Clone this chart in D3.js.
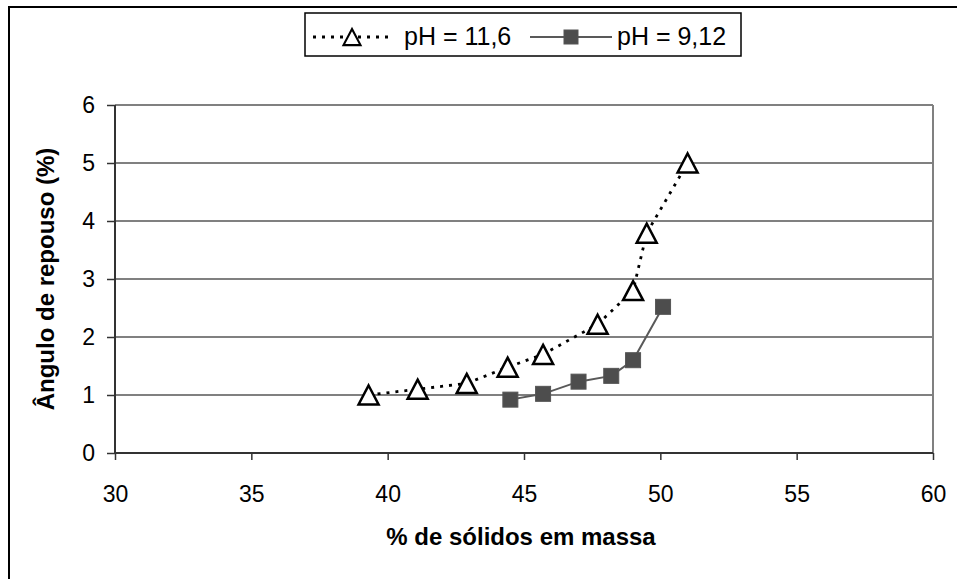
<!DOCTYPE html>
<html><head><meta charset="utf-8">
<script src="https://cdn.jsdelivr.net/npm/d3@7"></script>
<style>body{margin:0;background:#fff}svg{display:block}text{font-family:"Liberation Sans",Arial,sans-serif}</style>
</head><body>
<svg id="c" width="957" height="579"></svg>
<script>
const seriesA_name = "pH = 11,6";
const seriesA_x = [39.3, 41.1, 42.9, 44.4, 45.7, 47.7, 49.0, 49.5, 51.0];
const seriesA_y = [1.0, 1.1, 1.2, 1.48, 1.7, 2.22, 2.8, 3.79, 5.0];
const seriesB_name = "pH = 9,12";
const seriesB_x = [44.5, 45.7, 47.0, 48.2, 49.0, 50.1];
const seriesB_y = [0.92, 1.02, 1.23, 1.33, 1.6, 2.52];
const xTicks = [30, 35, 40, 45, 50, 55, 60];
const yTicks = [0, 1, 2, 3, 4, 5, 6];
const xTitle = "% de sólidos em massa";
const yTitle = "Ângulo de repouso (%)";

const svg = d3.select("#c");
const L = 115, R = 933, T = 105, B = 453;
const x = d3.scaleLinear().domain([30, 60]).range([L, R]);
const y = d3.scaleLinear().domain([0, 6]).range([B, T]);

// outer frame (only left/top visible)
svg.append("rect").attr("x", 9).attr("y", 7).attr("width", 1200).attr("height", 1200)
  .attr("fill", "none").attr("stroke", "#000").attr("stroke-width", 2);

// gridlines
svg.append("g").selectAll("line").data(yTicks.filter(d => d > 0)).join("line")
  .attr("x1", L).attr("x2", R).attr("y1", d => y(d)).attr("y2", d => y(d))
  .attr("stroke", "#808080").attr("stroke-width", 2);
svg.append("line").attr("x1", R).attr("x2", R).attr("y1", T).attr("y2", B)
  .attr("stroke", "#808080").attr("stroke-width", 2);

// axes
const FONT = '"Liberation Sans",Arial,sans-serif';
const xAxis = svg.append("g").attr("transform", `translate(0,${B})`)
  .call(d3.axisBottom(x).tickValues(xTicks).tickSize(7).tickPadding(26).tickFormat(d3.format("d")));
const yAxis = svg.append("g").attr("transform", `translate(${L},0)`)
  .call(d3.axisLeft(y).tickValues(yTicks).tickSize(8).tickPadding(12).tickFormat(d3.format("d")));
[xAxis, yAxis].forEach(g => {
  g.select(".domain").attr("stroke", "#333").attr("stroke-width", 2);
  g.selectAll(".tick line").attr("stroke", "#333").attr("stroke-width", 1.5);
  g.selectAll(".tick text").attr("font-size", 23).attr("fill", "#000").attr("font-family", FONT);
});
xAxis.select(".domain").attr("d", `M${L},0H${R}`);
yAxis.select(".domain").attr("d", `M0,${B}V${T}`);

// titles
svg.append("text").attr("x", 521).attr("y", 545).attr("text-anchor", "middle")
  .attr("font-size", 24).attr("font-weight", "bold").text(xTitle);
svg.append("text").attr("transform", `translate(54,${(T + B) / 2}) rotate(-90)`)
  .attr("text-anchor", "middle").attr("font-size", 24).attr("font-weight", "bold").text(yTitle);

const line = d3.line().x(d => x(d[0])).y(d => y(d[1]));
const A = seriesA_x.map((v, i) => [v, seriesA_y[i]]);
const Bd = seriesB_x.map((v, i) => [v, seriesB_y[i]]);

svg.append("path").attr("d", line(Bd)).attr("fill", "none").attr("stroke", "#595959").attr("stroke-width", 2);
svg.append("path").attr("d", line(A)).attr("fill", "none").attr("stroke", "#000")
  .attr("stroke-width", 2.8).attr("stroke-dasharray", "3,6");

const triPath = "M0,-9.5L10,9.5L-10,9.5Z";
svg.append("g").selectAll("path").data(A).join("path")
  .attr("d", triPath).attr("transform", d => `translate(${x(d[0])},${y(d[1])})`)
  .attr("fill", "#fff").attr("stroke", "#000").attr("stroke-width", 2.5).attr("stroke-linejoin", "miter");
svg.append("g").selectAll("rect").data(Bd).join("rect")
  .attr("x", d => x(d[0]) - 7.5).attr("y", d => y(d[1]) - 7.5).attr("width", 15).attr("height", 15)
  .attr("fill", "#4d4d4d").attr("stroke", "#555").attr("stroke-width", 1);

// legend
const lg = svg.append("g");
lg.append("rect").attr("x", 305).attr("y", 13).attr("width", 436).attr("height", 43)
  .attr("fill", "#fff").attr("stroke", "#000").attr("stroke-width", 1.5);
const ly = 37;
lg.append("line").attr("x1", 313).attr("x2", 393).attr("y1", ly).attr("y2", ly)
  .attr("stroke", "#000").attr("stroke-width", 2.8).attr("stroke-dasharray", "3,6");
lg.append("path").attr("d", triPath).attr("transform", `translate(352,${ly})scale(0.85)`)
  .attr("fill", "#fff").attr("stroke", "#000").attr("stroke-width", 2.5);
lg.append("text").attr("x", 404).attr("y", ly + 8).attr("font-size", 25).text(seriesA_name);
lg.append("line").attr("x1", 530).attr("x2", 612).attr("y1", ly).attr("y2", ly)
  .attr("stroke", "#595959").attr("stroke-width", 2);
lg.append("rect").attr("x", 564).attr("y", ly - 7).attr("width", 14).attr("height", 14)
  .attr("fill", "#4d4d4d").attr("stroke", "#555");
lg.append("text").attr("x", 617).attr("y", ly + 8).attr("font-size", 25).text(seriesB_name);
</script>
</body></html>
